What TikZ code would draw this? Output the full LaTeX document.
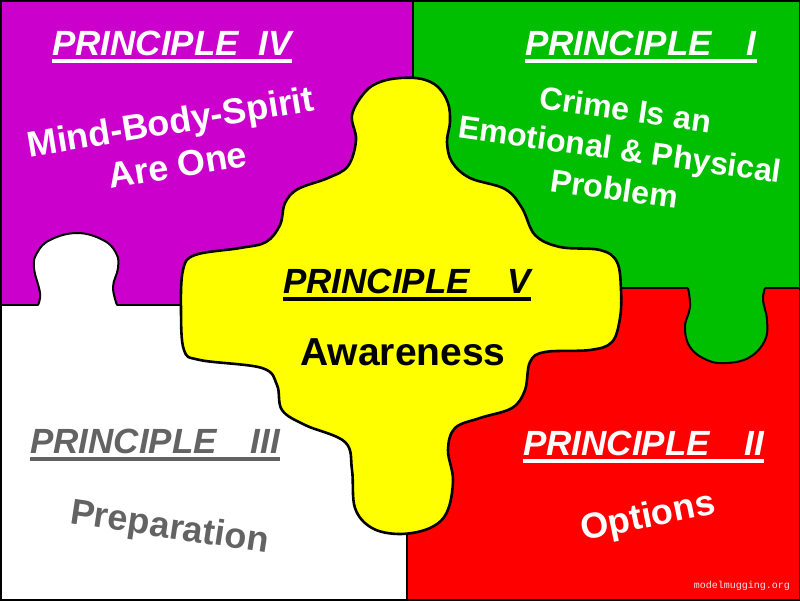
\documentclass[tikz,border=0pt]{standalone}
\usepackage{fontspec}
\setmainfont{Liberation Sans}
\newfontfamily\wmfont{Liberation Mono}
\definecolor{PzPurple}{HTML}{CC00CC}
\definecolor{PzGreen}{HTML}{00BE00}
\definecolor{PzRed}{HTML}{FF0000}
\definecolor{PzYellow}{HTML}{FFFF00}
\definecolor{PzGrey}{HTML}{636363}
\definecolor{PzMark}{HTML}{EAEAEA}
% underlined heading: text plus a thick rule under it
\newcommand{\ulhead}[1]{\setbox0=\hbox{#1}\rlap{\copy0}\rule[-8pt]{\wd0}{4pt}}

\begin{document}
\begin{tikzpicture}[
  x=1pt,y=-1pt,
  piece/.style={draw=black,line width=1.6pt},
  edge/.style={draw=black,line width=2pt,line join=round},
  head/.style={anchor=base west,inner sep=0pt,font=\fontsize{35}{42}\selectfont\bfseries\itshape},
  body/.style={align=center,inner sep=0pt,font=\fontsize{36}{44}\selectfont\bfseries},
  watermark/.style={anchor=base east,inner sep=0pt,font=\wmfont\fontsize{10}{12}\selectfont,text=PzMark}
]
\useasboundingbox (0,0) rectangle (800,600);
% the four corner pieces
\filldraw[piece,fill=PzPurple] (0,0) rectangle (413,305);
\filldraw[piece,fill=PzGreen] (413,0) rectangle (800,288);
\filldraw[piece,fill=white] (0,305) rectangle (407,600);
\filldraw[piece,fill=PzRed] (407,288) rectangle (800,600);
% knob of the white piece
\fill[white] plot[smooth,tension=0.7] coordinates {(38,307) (40,293) (34,268) (37,253) (50,240) (77,233) (103,240) (116,253) (118,268) (113,287) (117,307)} -- cycle;
\draw[edge] plot[smooth,tension=0.7] coordinates {(38,305) (40,293) (34,268) (37,253) (50,240) (77,233) (103,240) (116,253) (118,268) (113,287) (117,305)};
% knob of the green piece
\fill[PzGreen] plot[smooth,tension=0.7] coordinates {(688,287) (690,307) (685,327) (690,347) (707,360) (727,363) (750,357) (765,340) (767,320) (763,300) (765,287)} -- cycle;
\draw[edge] plot[smooth,tension=0.7] coordinates {(688,288) (690,307) (685,327) (690,347) (707,360) (727,363) (750,357) (765,340) (767,320) (763,300) (765,288)};
% centre piece
\filldraw[edge,line width=2.6pt,fill=PzYellow] plot[smooth cycle,tension=0.6] coordinates {
  (400,78) (422,79) (438,87) (448,103) (450,122) (447,142) (452,162) (470,178)
  (505,189) (522,208) (535,235) (560,247) (600,250) (617,262) (621,290) (620,318)
  (612,342) (590,350) (545,352) (530,362) (525,390) (512,408) (480,418) (455,428)
  (448,450) (453,480) (447,512) (430,528) (400,534) (372,528) (355,508) (352,470)
  (345,442) (305,425) (282,410) (277,385) (262,368) (200,360) (184,350) (181,310)
  (183,270) (195,255) (240,248) (266,242) (280,225) (285,203) (298,189) (328,178)
  (348,166) (356,140) (352,115) (365,92) (380,82)};
% headings
\node[head,text=white] (headIV) at (52,55) {\ulhead{PRINCIPLE\hspace{20pt}IV}};
\node[head,text=white] (headI) at (525,55) {\ulhead{PRINCIPLE\hspace{35pt}I}};
\node[head,text=black] (headV) at (283,293) {\ulhead{PRINCIPLE\hspace{38pt}V}};
\node[head,text=PzGrey] (headIII) at (30,453) {\ulhead{PRINCIPLE\hspace{34pt}III}};
\node[head,text=white] (headII) at (523,455) {\ulhead{PRINCIPLE\hspace{35pt}II}};
% texts of the pieces
\node[body,text=white,rotate=9.3] (mind) at (174,143) {Mind-Body-Spirit\\Are One};
\node[body,text=white,rotate=-8,font=\fontsize{32}{40}\selectfont\bfseries] (crime) at (620,149) {Crime Is an\\Emotional \& Physical\\Problem};
\node[body,text=black,anchor=base,font=\fontsize{39}{44}\selectfont\bfseries] (aware) at (403,365) {Awareness};
\node[body,text=PzGrey,anchor=base,rotate=-8.6] (prep) at (168,538) {Preparation};
\node[body,text=white,anchor=base,rotate=11.6] (opts) at (650,527) {Options};
\node[watermark] (site) at (790,588) {modelmugging.org};
% frame
\draw[line width=3pt] (0,0) rectangle (800,600);
\end{tikzpicture}
\end{document}
